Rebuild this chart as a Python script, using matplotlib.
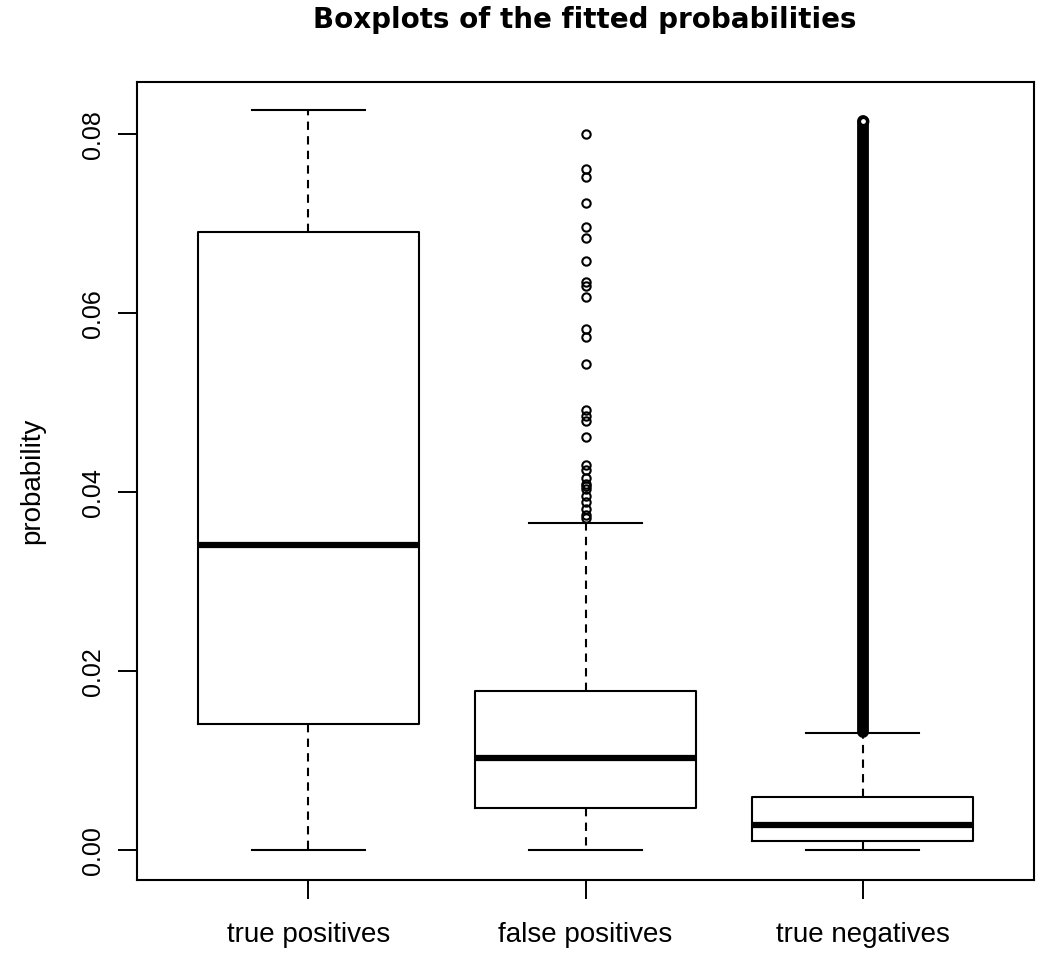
import matplotlib
matplotlib.use("Agg")
import matplotlib.pyplot as plt

categories = ["true positives", "false positives", "true negatives"]
whisker_low = [0.0, 0.0, 0.0]
q1 = [0.0141, 0.00475, 0.0011]
median = [0.0341, 0.01034, 0.00285]
q3 = [0.0691, 0.01782, 0.00594]
whisker_high = [0.0827, 0.0366, 0.01309]

tp_outliers = []
fp_outliers = [0.0800, 0.0761, 0.0753, 0.0723, 0.0697, 0.0684, 0.0659, 0.0635,
               0.0631, 0.0618, 0.0583, 0.0574, 0.0543, 0.0492, 0.0486, 0.0480,
               0.0462, 0.0431, 0.0425, 0.0416, 0.0410, 0.0407, 0.0404, 0.0396,
               0.0389, 0.0381, 0.0375, 0.0372]
# true negatives: continuous band of overlapping outliers
tn_outlier_min = 0.0132
tn_outlier_max = 0.0815

yticks = [0.00, 0.02, 0.04, 0.06, 0.08]
ytick_labels = ["0.00", "0.02", "0.04", "0.06", "0.08"]

plt.rcParams['font.family'] = ['Liberation Sans', 'DejaVu Sans']

fig = plt.figure(figsize=(10.5, 9.58), dpi=100)
ax = fig.add_axes([136.7/1050, 1 - 880/958, (1034.3-136.7)/1050, (880-82.3)/958])

stats = []
fliers = [tp_outliers, fp_outliers, []]
for i, c in enumerate(categories):
    stats.append(dict(label=c, whislo=whisker_low[i], q1=q1[i], med=median[i],
                      q3=q3[i], whishi=whisker_high[i], fliers=fliers[i]))

positions = [1, 2, 3]
ax.bxp(stats, positions=positions, widths=0.8,
       boxprops=dict(color="black", linewidth=1.5),
       medianprops=dict(color="black", linewidth=4.5, solid_capstyle="butt"),
       whiskerprops=dict(color="black", linewidth=1.5, linestyle=(0, (4, 3))),
       capprops=dict(color="black", linewidth=1.5),
       capwidths=0.41,
       flierprops=dict(marker="o", markerfacecolor="none", markeredgecolor="black",
                       markersize=6.0, markeredgewidth=1.5, linestyle="none"))

# TN outlier band
ax.vlines(positions[2], tn_outlier_min, tn_outlier_max, color="black",
          linewidth=8.5, capstyle="round", zorder=3)
ax.plot([positions[2]], [tn_outlier_max], marker="o", markersize=6.0,
        markerfacecolor="white", markeredgecolor="black", markeredgewidth=2.5, zorder=4)

ax.set_xlim(0.38, 3.62)
ax.set_ylim(-0.0033, 0.08583)
ax.set_yticks(yticks)
ax.set_yticklabels(ytick_labels, rotation=90, va="center", fontsize=18)
ax.set_xticks(positions)
ax.set_xticklabels(categories, fontsize=20)
ax.tick_params(axis="both", length=13.5, width=1.4, color="black")
ax.tick_params(axis="x", pad=17)
ax.tick_params(axis="y", pad=9)
for s in ax.spines.values():
    s.set_linewidth(1.5)

ax.set_ylabel("probability", fontsize=20, labelpad=26)
fig.text(585/1050, 1 - 20/958, "Boxplots of the fitted probabilities",
         ha="center", va="center", fontsize=20, fontweight="bold",
         family=["DejaVu Sans"])

fig.savefig("out.png", dpi=100)
